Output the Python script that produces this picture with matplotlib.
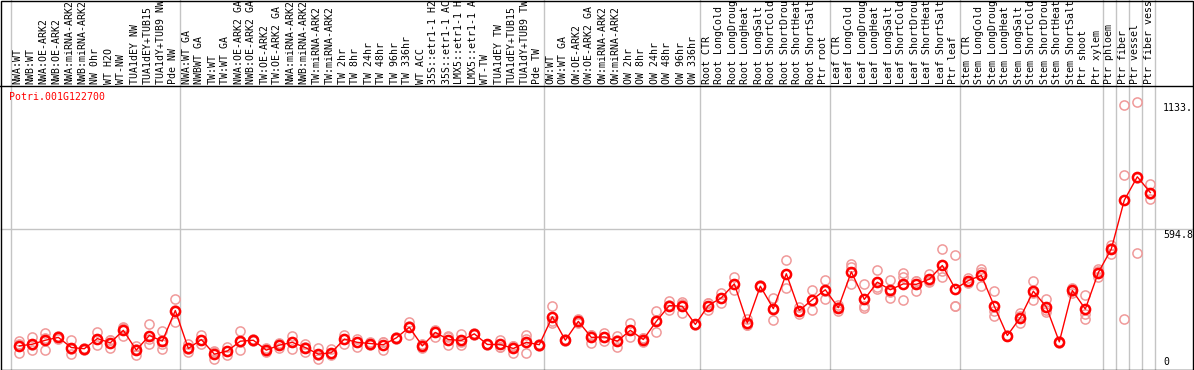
import matplotlib
matplotlib.use('Agg')
import matplotlib.pyplot as plt
from matplotlib.transforms import blended_transform_factory, offset_copy
from matplotlib.lines import Line2D
from matplotlib.patches import Rectangle

# ---------------- data (labels as visible in the chart) ----------------
gene = "Potri.001G122700"

labels_nw = ["NWA:WT", "NWB:WT", "NWA:OE-ARK2", "NWB:OE-ARK2", "NWA:miRNA-ARK2",
             "NWB:miRNA-ARK2", "NW 0hr", "WT H2O", "WT-NW", "TUA1dEY NW",
             "TUA1dEY+TUB15", "TUA1dY+TUB9 NW", "Pde NW"]
labels_tw = ["NWA:WT GA", "NWBWT GA", "TW:WT", "TW:WT GA", "NWA:OE-ARK2 GA",
             "NWB:OE-ARK2 GA", "TW:OE-ARK2", "TW:OE-ARK2 GA", "NWA:miRNA-ARK2",
             "NWB:miRNA-ARK2", "TW:miRNA-ARK2", "TW:miRNA-ARK2", "TW 2hr",
             "TW 8hr", "TW 24hr", "TW 48hr", "TW 96hr", "TW 336hr", "WT ACC",
             "35S::etr1-1 H2", "35S::etr1-1 AC", "LMX5::etr1-1 H",
             "LMX5::etr1-1 A", "WT-TW", "TUA1dEY TW", "TUA1dEY+TUB15",
             "TUA1dY+TUB9 TW", "Pde TW"]
labels_ow = ["OW:WT", "OW:WT GA", "OW:OE-ARK2", "OW:OE-ARK2 GA", "OW:miRNA-ARK2",
             "OW:miRNA-ARK2", "OW 2hr", "OW 8hr", "OW 24hr", "OW 48hr",
             "OW 96hr", "OW 336hr"]
stress = ["CTR", "LongCold", "LongDroug", "LongHeat", "LongSalt",
          "ShortCold", "ShortDrou", "ShortHeat", "ShortSalt"]
labels_root = ["Root " + s for s in stress] + ["Ptr root"]
labels_leaf = ["Leaf " + s for s in stress] + ["Ptr leaf"]
labels_stem = ["Stem " + s for s in stress] + ["Ptr shoot", "Ptr xylem"]
labels_ptr = ["Ptr phloem", "Ptr fiber", "Ptr vessel", "Ptr fiber vess"]

groups = [labels_nw, labels_tw, labels_ow, labels_root, labels_leaf, labels_stem,
          labels_ptr[:1], labels_ptr[1:2], labels_ptr[2:3], labels_ptr[3:]]
labels = [l for g in groups for l in g]

means = [98, 105, 122, 134, 91, 86, 129, 111, 164, 80, 142, 118, 248,
         87, 125, 63, 76, 118, 122, 80, 101, 113, 91, 63, 69, 127, 113, 108,
         103, 132, 177, 98, 155, 125, 121, 149, 104, 104, 87, 113, 103,
         222, 122, 202, 134, 136, 118, 164, 125, 202, 269, 266, 189,
         269, 302, 361, 195, 351, 256, 404, 248, 294, 336,
         260, 412, 295, 368, 336, 361, 359, 381, 439, 340,
         375, 397, 266, 142, 218, 330, 263, 115, 333, 254, 409,
         509, 716, 815, 748]

rep1 = [119, 134, 153, 140, 125, 90, 157, 124, 178, 98, 190, 162, 295,
        105, 146, 78, 94, 160, 126, 87, 111, 139, 108, 87, 83, 146, 129, 113,
        115, 136, 201, 105, 167, 140, 148, 152, 108, 125, 98, 146, 107,
        266, 126, 210, 146, 151, 139, 193, 130, 245, 287, 284, 192,
        280, 324, 389, 214, 355, 302, 463, 263, 336, 378,
        270, 446, 359, 418, 378, 406, 375, 404, 509, 485,
        385, 425, 329, 146, 238, 375, 298, 120, 345, 315, 423,
        527, 1118, 1133, 783]
rep2 = [106, 101, 133, 134, 86, 86, 129, 122, 173, 83, 128, 106, 249,
        85, 121, 70, 75, 114, 122, 80, 105, 116, 92, 61, 65, 127, 116, 108,
        114, 132, 184, 100, 162, 134, 114, 149, 104, 95, 97, 127, 103,
        205, 122, 200, 145, 137, 121, 165, 130, 206, 271, 276, 189,
        278, 302, 361, 186, 351, 259, 404, 246, 294, 332,
        264, 432, 268, 346, 328, 389, 373, 372, 416, 269,
        375, 412, 245, 142, 223, 321, 249, 115, 330, 235, 415,
        512, 821, 811, 742]
rep3 = [69, 80, 80, 128, 62, 82, 101, 87, 141, 59, 108, 86, 200,
        71, 108, 41, 59, 80, 118, 73, 87, 84, 73, 41, 59, 108, 94, 103,
        80, 128, 146, 90, 136, 101, 101, 146, 100, 92, 66, 66, 99,
        195, 118, 196, 111, 120, 94, 134, 115, 155, 249, 238, 186,
        249, 280, 333, 185, 347, 207, 345, 235, 252, 298,
        246, 359, 258, 340, 302, 291, 329, 367, 392, 266,
        365, 354, 224, 138, 193, 294, 242, 110, 324, 210, 389,
        488, 210, 492, 720]

tick_values = [1133.0, 594.8, 0]
tick_texts = ["1133.", "594.8", "0"]
grid_value = 594.8

# ---------------- figure ----------------
W, H = 1194, 370
fig = plt.figure(figsize=(W / 100, H / 100), dpi=100)
fig.patch.set_facecolor('white')

x0, x1 = 11, 1155          # pixel extent of the category area
ytop, ybot = 86, 369       # pixel extent of the plot area (from top)
ax = fig.add_axes([x0 / W, (H - ybot) / H, (x1 - x0) / W, (ybot - ytop) / H])
n = len(labels)
ax.set_xlim(0, n)
ax.set_ylim(0, 1200)
ax.axis('off')

font = dict(family='DejaVu Sans Mono', size=7.1)
grid_c = '#c4c4c4'

# vertical group separators (from the group sizes)
bounds = [0]
for g in groups:
    bounds.append(bounds[-1] + len(g))
top_ext = 1 + (ytop + 1) / (ybot - ytop)
for b in bounds:
    ax.axvline(b, ymin=0, ymax=top_ext, color=grid_c, lw=1, clip_on=False, zorder=1)

# horizontal grid line
ax.axhline(grid_value, xmin=-(x0 - 1) / (x1 - x0), xmax=(W - 1 - x0) / (x1 - x0),
           color=grid_c, lw=1, clip_on=False, zorder=1)

# borders
fig.add_artist(Line2D([0, 1], [(H - 85.5) / H] * 2, transform=fig.transFigure,
                      color='black', lw=1))
fig.add_artist(Rectangle((1 / W, 0.5 / H), (W - 2.5) / W, (H - 1.5) / H,
                         transform=fig.transFigure, fill=False,
                         edgecolor='black', lw=1))

# data
xs = [i + 0.64 for i in range(n)]
for r in (rep1, rep2, rep3):
    ax.plot(xs, r, linestyle='none', marker='o', markersize=6.6,
            markerfacecolor='none', markeredgecolor='#f09a9a',
            markeredgewidth=1.1, zorder=2, clip_on=False)
ax.plot(xs, means, color='#ff0000', lw=1, zorder=3)
ax.plot(xs, means, linestyle='none', marker='o', markersize=6.6,
        markerfacecolor='none', markeredgecolor='#ff0000',
        markeredgewidth=1.8, zorder=4)

# category labels
tlab = offset_copy(blended_transform_factory(ax.transData, ax.transAxes),
                   fig=fig, x=0, y=2.5, units='dots')
for i, lab in enumerate(labels):
    ax.text(i + 0.5, 1.0, lab, transform=tlab, rotation=90, ha='center',
            va='bottom', color='black', clip_on=False, **font)

# gene name
fig.text(9 / W, 1 - 92 / H, gene, color='#ff0000', ha='left', va='top', **font)

# right-hand value labels
tr = blended_transform_factory(fig.transFigure, ax.transData)
for v, t in zip(tick_values, tick_texts):
    if v == 0:
        tt = offset_copy(tr, fig=fig, x=0, y=2, units='dots')
        fig.text(1163 / W, v, t, transform=tt, ha='left', va='bottom', **font)
    else:
        tt = offset_copy(tr, fig=fig, x=0, y=-1, units='dots')
        fig.text(1163 / W, v, t, transform=tt, ha='left', va='top', **font)

fig.savefig('out.png', dpi=100, facecolor='white')
